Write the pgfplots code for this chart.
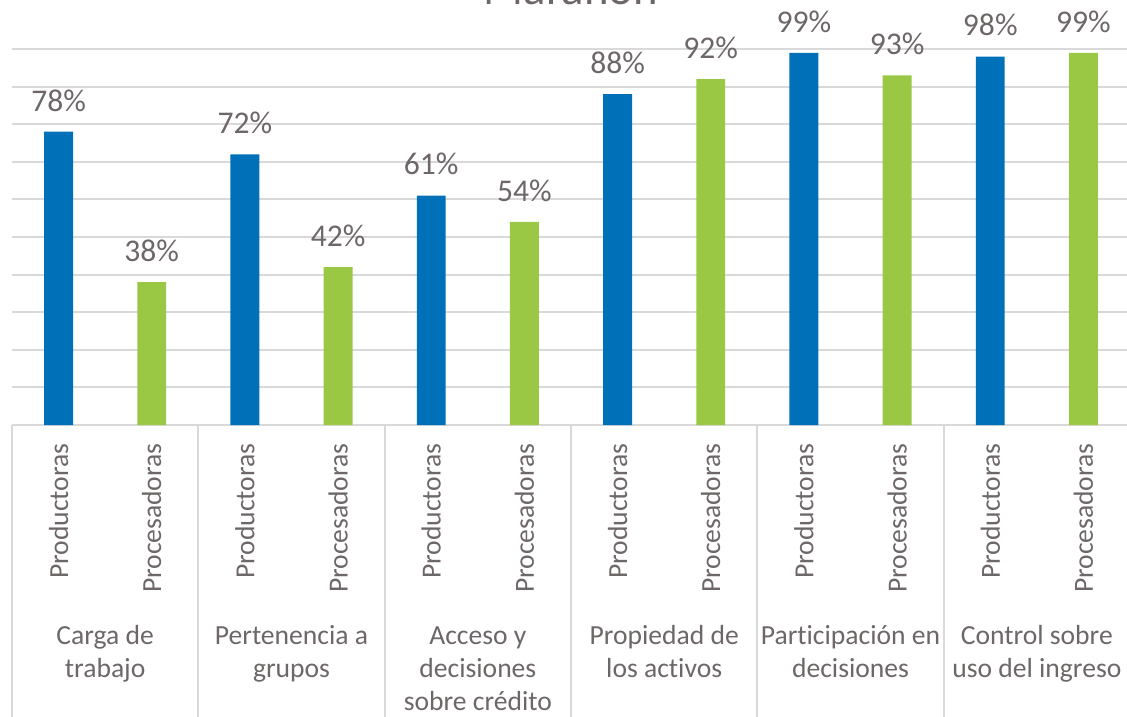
\documentclass[border=0pt]{standalone}
\usepackage{fontspec}
\setmainfont{Carlito}[Ligatures=NoCommon]
\usepackage{pgfplots}
\pgfplotsset{compat=1.18}
\definecolor{barblue}{HTML}{0070B8}
\definecolor{bargreen}{HTML}{9AC844}
\definecolor{txtgrey}{HTML}{6D6767}
\definecolor{gridgrey}{HTML}{D9D9D9}
\tikzset{grouplab/.style={anchor=north, align=center, inner sep=0pt, yshift=-97.95pt,
                          font=\fontsize{13.8}{16.5}\selectfont, text=txtgrey}}

\begin{document}
\begin{tikzpicture}
\begin{axis}[
    scale only axis,
    width=559pt, height=188pt,
    at={(0,0)}, anchor=south west,
    xmin=-0.5, xmax=11.5, ymin=0, ymax=100,
    ybar, bar width=0.31,
    axis line style={draw=none},
    major tick length=0pt,
    ytick={0,10,...,100}, yticklabels={},
    ymajorgrids,
    major grid style={gridgrey, line width=1pt},
    xtick={0,...,11},
    xticklabels={Productoras,Procesadoras,Productoras,Procesadoras,
                 Productoras,Procesadoras,Productoras,Procesadoras,
                 Productoras,Procesadoras,Productoras,Procesadoras},
    xticklabel style={rotate=90, anchor=east, inner sep=0pt,
                      font=\fontsize{13.8}{16.5}\selectfont, text=txtgrey},
    xticklabel shift=9pt,
    nodes near coords={\pgfmathprintnumber[assume math mode=true]{\pgfplotspointmeta}\%},
    every node near coord/.append style={font=\fontsize{15.8}{19}\selectfont,
                      text=txtgrey, inner sep=0pt, yshift=10pt},
    clip=false,
]
% Productoras
\addplot[fill=barblue, draw=none, bar shift=0pt]
    coordinates {(0,78) (2,72) (4,61) (6,88) (8,99) (10,98)};
% Procesadoras
\addplot[fill=bargreen, draw=none, bar shift=0pt]
    coordinates {(1,38) (3,42) (5,54) (7,92) (9,93) (11,99)};

% group separators
\pgfplotsinvokeforeach{-0.5,1.5,3.5,5.5,7.5,9.5,11.5}{
    \draw[gridgrey, line width=1pt] (axis cs:#1,0) -- ([yshift=-160pt]axis cs:#1,0);
}
\node[grouplab] at (axis cs:0.5,0) {\strut Carga de\\trabajo};
\node[grouplab] at (axis cs:2.5,0) {\strut Pertenencia a\\grupos};
\node[grouplab] at (axis cs:4.5,0) {\strut Acceso y\\decisiones\\sobre crédito};
\node[grouplab] at (axis cs:6.5,0) {\strut Propiedad de\\los activos};
\node[grouplab] at (axis cs:8.5,0) {\strut Participación en\\decisiones};
\node[grouplab] at (axis cs:10.5,0) {\strut Control sobre\\uso del ingreso};

\node[anchor=base, inner sep=0pt, yshift=22pt,
      font=\fontsize{23.4}{28}\selectfont, text=txtgrey]
    at (axis cs:5.5,100) {Marañón};
\end{axis}
\pgfresetboundingbox
\useasboundingbox (-6pt,-145.5pt) rectangle (557.5pt,212.5pt);
\end{tikzpicture}
\end{document}
